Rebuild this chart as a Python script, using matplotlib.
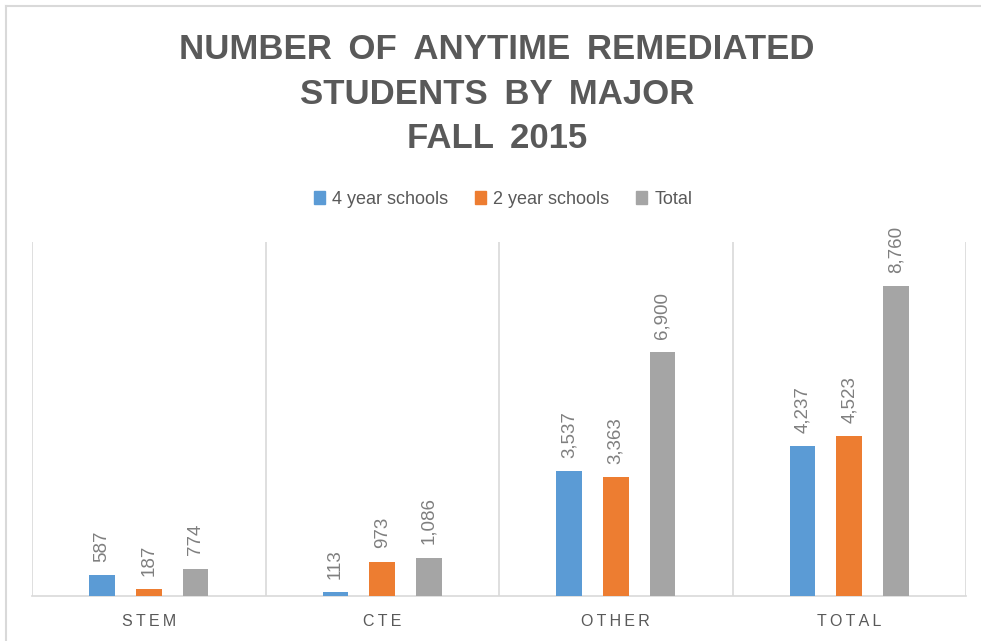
import matplotlib
matplotlib.use("Agg")
import matplotlib.pyplot as plt
from matplotlib.lines import Line2D
import numpy as np

categories = ["STEM", "CTE", "OTHER", "TOTAL"]
series_names = ["4 year schools", "2 year schools", "Total"]
four_year = [587, 113, 3537, 4237]
two_year = [187, 973, 3363, 4523]
total = [774, 1086, 6900, 8760]
colors = ["#5b9bd5", "#ed7d31", "#a5a5a5"]
title_lines = ["NUMBER OF ANYTIME REMEDIATED", "STUDENTS BY MAJOR", "FALL 2015"]

FONT = ["Liberation Sans", "DejaVu Sans"]
plt.rcParams['font.family'] = FONT

fig = plt.figure(figsize=(9.81, 6.41), dpi=100)
ax = fig.add_axes([32/981, 45/641, 934/981, 354/641])

x = np.arange(len(categories))
offsets = [-0.2, 0.0, 0.2]
width = 0.11
for vals, off, col, name in zip([four_year, two_year, total], offsets, colors, series_names):
    ax.bar(x + off, vals, width, color=col, label=name, zorder=3)
    for xi, v in zip(x + off, vals):
        ax.annotate(f"{v:,}", (xi, v), xytext=(0, 9.5), textcoords="offset points",
                    rotation=90, ha="center", va="bottom", fontsize=13.5,
                    color="#7f7f7f")

ax.set_xlim(-0.5, len(categories) - 0.5)
ax.set_ylim(0, 10000)
ax.set_yticks([])
ax.set_xticks(x)
ax.set_xticklabels(["\u2009".join(c) for c in categories], fontsize=11.5,
                   color="#595959")
ax.tick_params(axis="x", length=0, pad=13)
for b in np.arange(-0.5, len(categories), 1.0):
    ax.axvline(b, color="#d9d9d9", lw=1.2, zorder=1)
for s in ["top", "left", "right"]:
    ax.spines[s].set_visible(False)
ax.spines["bottom"].set_color("#d9d9d9")
ax.spines["bottom"].set_linewidth(1.2)

title = "\n".join(l.replace(" ", " \u2009") for l in title_lines)
fig.text(497/981, 1 - 94/641, title,
         ha="center", va="center", fontsize=25, fontweight="bold", color="#595959",
         linespacing=1.43)

handles = [plt.Rectangle((0, 0), 1, 1, color=c) for c in colors]
fig.legend(handles, series_names, loc="center", bbox_to_anchor=(503/981, 1 - 199/641),
           ncol=3, frameon=False, fontsize=13, handlelength=0.6, handleheight=0.7,
           handletextpad=0.4, columnspacing=1.5, labelcolor="#595959")

# outer chart border
fig.add_artist(Line2D([6/981, 1], [1 - 6/641, 1 - 6/641], color="#d9d9d9", lw=1.5))
fig.add_artist(Line2D([6/981, 6/981], [0, 1 - 6/641], color="#d9d9d9", lw=1.5))

fig.savefig("out.png", dpi=100)
